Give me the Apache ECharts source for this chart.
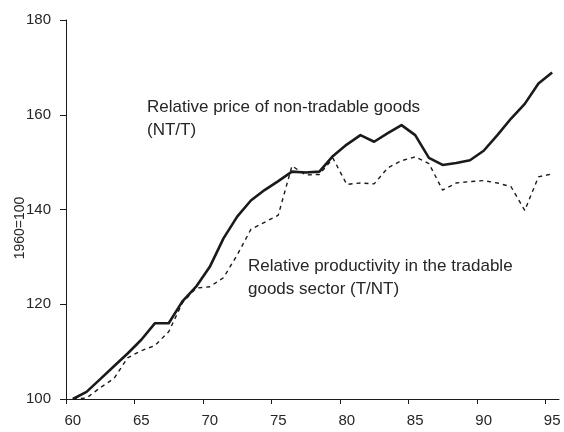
<!DOCTYPE html>
<html>
<head>
<meta charset="utf-8">
<script src="https://cdn.jsdelivr.net/npm/echarts@6/dist/echarts.min.js"></script>
<style>
html,body{margin:0;padding:0;background:#fff;}
#chart{width:564px;height:432px;}
</style>
</head>
<body>
<div id="chart"></div>
<script>
// Years (two-digit, 1960..1995)
const years = [60,61,62,63,64,65,66,67,68,69,70,71,72,73,74,75,76,77,78,79,80,81,82,83,84,85,86,87,88,89,90,91,92,93,94,95];
// Relative price of non-tradable goods (NT/T), 1960=100
const priceNT = [100,101.5,104.2,106.9,109.6,112.5,116,116,120.6,123.7,127.9,133.9,138.5,141.9,144.1,146,148,147.8,148,151.3,153.7,155.7,154.3,156.1,157.8,155.7,150.9,149.4,149.8,150.4,152.4,155.7,159.2,162.3,166.6,168.9];
// Relative productivity in the tradable goods sector (T/NT), 1960=100
const prodT = [100,100.2,102.4,104.3,108.7,110.2,111.3,114.2,120.3,123.4,123.7,125.6,130.4,135.8,137.3,138.8,149.2,147.3,147.4,150.8,145.3,145.6,145.4,148.8,150.3,151.1,149.7,144.1,145.6,145.9,146.1,145.6,144.8,139.8,146.9,147.5];
// Axis ticks
const xLabelValues = [60,65,70,75,80,85,90,95];
const xTickValues = [59.5,64.5,69.5,74.5,79.5,84.5,89.5,94.5];
const yTicks = [100,120,140,160,180];
const yAxisName = '1960=100';

const ink = '#1a1a1a';
const textCol = '#262626';
const font = 'Liberation Sans, Arial, sans-serif';
const chart = echarts.init(document.getElementById('chart'));
chart.setOption({
  animation: false,
  backgroundColor: '#fff',
  grid: {left: 66, right: 5, top: 20, bottom: 33, containLabel: false, outerBoundsMode: 'none'},
  xAxis: {
    type: 'value', min: 59.5, max: 95.5,
    splitLine: {show: false},
    axisLine: {show: true, onZero: false, lineStyle: {color: ink, width: 1}},
    axisTick: {show: true, length: 5, inside: false, customValues: xTickValues, lineStyle: {color: ink}},
    axisLabel: {customValues: xLabelValues, margin: 14, fontSize: 15, color: textCol, fontFamily: font}
  },
  yAxis: {
    type: 'value', min: yTicks[0], max: yTicks[yTicks.length-1], interval: 20,
    splitLine: {show: false},
    axisLine: {show: true, onZero: false, lineStyle: {color: ink, width: 1}},
    axisTick: {show: true, length: 6, inside: false, lineStyle: {color: ink}},
    axisLabel: {margin: 15, fontSize: 15, color: textCol, fontFamily: font}
  },
  series: [
    {
      name: 'Relative price of non-tradable goods (NT/T)', type: 'line',
      data: years.map((y, i) => [y, priceNT[i]]),
      symbol: 'none', z: 3,
      lineStyle: {color: ink, width: 2.6, join: 'round'}
    },
    {
      name: 'Relative productivity in the tradable goods sector (T/NT)', type: 'line',
      data: years.map((y, i) => [y, prodT[i]]),
      symbol: 'none', z: 2,
      lineStyle: {color: ink, width: 1.4, type: [4, 4]}
    }
  ],
  graphic: [
    {type: 'text', x: 20, y: 228, rotation: Math.PI / 2, silent: true,
     style: {text: yAxisName, fontSize: 14, fill: textCol, fontFamily: font, align: 'center', verticalAlign: 'middle'}},
    {type: 'text', left: 147, top: 96, silent: true,
     style: {text: 'Relative price of non-tradable goods\n(NT/T)', fontSize: 17, lineHeight: 23, fill: textCol, fontFamily: font}},
    {type: 'text', left: 248, top: 255, silent: true,
     style: {text: 'Relative productivity in the tradable\ngoods sector (T/NT)', fontSize: 17, lineHeight: 23, fill: textCol, fontFamily: font}}
  ]
});
</script>
</body>
</html>
